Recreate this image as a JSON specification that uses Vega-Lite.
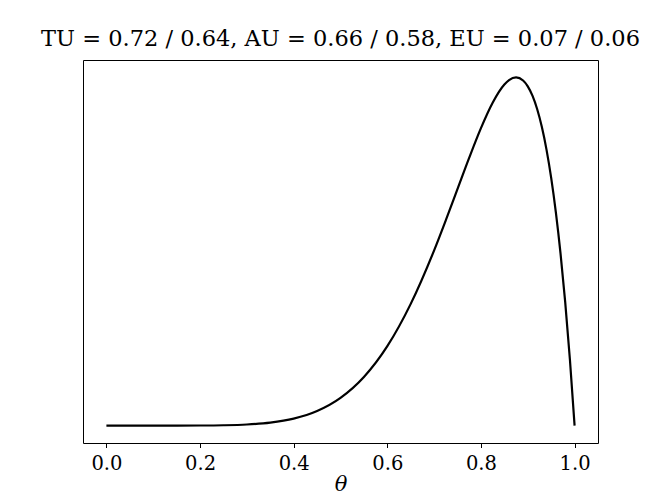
{
  "$schema": "https://vega.github.io/schema/vega-lite/v6.json",
  "width": 515,
  "height": 383,
  "autosize": {"type": "none"},
  "padding": {"left": 83, "top": 60, "right": 66, "bottom": 55},
  "background": "white",
  "config": {
    "view": {"stroke": "#000000", "strokeWidth": 1},
    "font": "DejaVu Serif"
  },
  "title": {
    "text": "TU = 0.72 / 0.64, AU = 0.66 / 0.58, EU = 0.07 / 0.06",
    "font": "DejaVu Serif",
    "fontSize": 22.5,
    "fontWeight": "normal",
    "color": "#000000",
    "anchor": "middle",
    "baseline": "alphabetic",
    "offset": -8
  },
  "data": {
    "values": [
      {"theta": 0.0, "density": 0.0},
      {"theta": 0.05, "density": 0.0},
      {"theta": 0.1, "density": 0.0000065},
      {"theta": 0.15, "density": 0.000105},
      {"theta": 0.2, "density": 0.000737},
      {"theta": 0.25, "density": 0.003296},
      {"theta": 0.3, "density": 0.01102},
      {"theta": 0.35, "density": 0.03011},
      {"theta": 0.4, "density": 0.07078},
      {"theta": 0.45, "density": 0.14797},
      {"theta": 0.5, "density": 0.28125},
      {"theta": 0.55, "density": 0.49327},
      {"theta": 0.6, "density": 0.80622},
      {"theta": 0.65, "density": 1.23538},
      {"theta": 0.7, "density": 1.77885},
      {"theta": 0.725, "density": 2.0851},
      {"theta": 0.75, "density": 2.40271},
      {"theta": 0.775, "density": 2.7203},
      {"theta": 0.8, "density": 3.0199},
      {"theta": 0.825, "density": 3.27764},
      {"theta": 0.85, "density": 3.46223},
      {"theta": 0.86, "density": 3.50713},
      {"theta": 0.875, "density": 3.53426},
      {"theta": 0.89, "density": 3.50309},
      {"theta": 0.9, "density": 3.44374},
      {"theta": 0.91, "density": 3.34867},
      {"theta": 0.92, "density": 3.21322},
      {"theta": 0.93, "density": 3.03262},
      {"theta": 0.94, "density": 2.80148},
      {"theta": 0.95, "density": 2.51401},
      {"theta": 0.96, "density": 2.16423},
      {"theta": 0.97, "density": 1.74524},
      {"theta": 0.98, "density": 1.2501},
      {"theta": 0.99, "density": 0.67109},
      {"theta": 1.0, "density": 0.0}
    ]
  },
  "mark": {"type": "line", "color": "#000000", "strokeWidth": 2.2, "interpolate": "monotone", "clip": true},
  "encoding": {
    "x": {
      "field": "theta",
      "type": "quantitative",
      "title": "θ",
      "scale": {"domain": [-0.05, 1.05], "nice": false, "zero": false},
      "axis": {
        "values": [0, 0.2, 0.4, 0.6, 0.8, 1.0],
        "format": ".1f",
        "domain": false,
        "grid": false,
        "ticks": true,
        "tickSize": 4.5,
        "tickWidth": 1,
        "tickColor": "#000000",
        "labelFont": "DejaVu Serif",
        "labelFontSize": 19.5,
        "labelColor": "#000000",
        "labelPadding": 7,
        "labelFlush": false,
        "titleFont": "DejaVu Serif",
        "titleFontStyle": "italic",
        "titleFontWeight": "normal",
        "titleFontSize": 21,
        "titleColor": "#000000",
        "titlePadding": 0
      }
    },
    "y": {
      "field": "density",
      "type": "quantitative",
      "scale": {"domain": [-0.17671, 3.71097], "nice": false, "zero": false},
      "axis": null
    }
  }
}
